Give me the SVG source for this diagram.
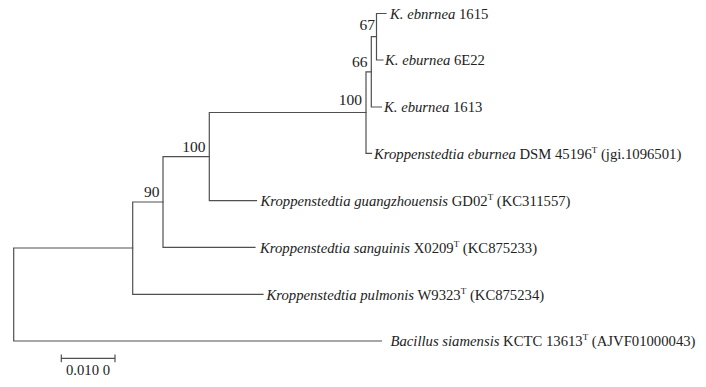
<svg xmlns="http://www.w3.org/2000/svg" width="706" height="387" viewBox="0 0 706 387">
<style>
.br{stroke:#505050;stroke-width:1.2;fill:none;stroke-linecap:square}
text{font-family:"Liberation Serif","Times New Roman",serif;font-size:14.7px;fill:#222}
.bs{text-anchor:end;font-size:15.5px}
.i{font-style:italic}
.sup{font-size:9px}
</style>
<rect width="706" height="387" fill="#fff"/>
<g id="connectors">
<path class="br" d="M376.5,13.5 V60 M376.5,13.5 H386 M376.5,60 H383"/>
<path class="br" d="M371.3,36.7 V107 M371.3,36.7 H376.5 M371.3,107 H381.5"/>
<path class="br" d="M366,71.8 V153.3 M366,71.8 H371.3 M366,153.3 H371.5"/>
<path class="br" d="M209.3,112.5 V200.7 M209.3,112.5 H366 M209.3,200.7 H256.5"/>
<path class="br" d="M163,156.6 V247.3 M163,156.6 H209.3 M163,247.3 H255"/>
<path class="br" d="M132.7,202 V294.3 M132.7,202 H163 M132.7,294.3 H263"/>
<path class="br" d="M13.7,248 V341 M13.7,248 H132.7 M13.7,341 H381.5"/>
</g>
<g id="leaf-1615"><text x="390" y="19"><tspan class="i">K. ebnrnea</tspan> 1615</text></g>
<g id="leaf-6E22"><text x="385" y="65"><tspan class="i">K. eburnea</tspan> 6E22</text></g>
<g id="leaf-1613"><text x="384" y="112"><tspan class="i">K. eburnea</tspan> 1613</text></g>
<g id="leaf-dsm"><text x="374" y="158.5"><tspan class="i">Kroppenstedtia eburnea</tspan> DSM 45196<tspan class="sup" dy="-6">T</tspan><tspan dy="6"> (jgi.1096501)</tspan></text></g>
<g id="leaf-gd02"><text x="260.5" y="206"><tspan class="i">Kroppenstedtia guangzhouensis</tspan> GD02<tspan class="sup" dy="-6">T</tspan><tspan dy="6"> (KC311557)</tspan></text></g>
<g id="leaf-x0209"><text x="260" y="252.5"><tspan class="i">Kroppenstedtia sanguinis</tspan> X0209<tspan class="sup" dy="-6">T</tspan><tspan dy="6"> (KC875233)</tspan></text></g>
<g id="leaf-w9323"><text x="266.5" y="299.5"><tspan class="i">Kroppenstedtia pulmonis</tspan> W9323<tspan class="sup" dy="-6">T</tspan><tspan dy="6"> (KC875234)</tspan></text></g>
<g id="leaf-bacillus"><text x="390.5" y="346"><tspan class="i">Bacillus siamensis</tspan> KCTC 13613<tspan class="sup" dy="-6">T</tspan><tspan dy="6"> (AJVF01000043)</tspan></text></g>
<g id="node-67"><text class="bs" x="375" y="30">67</text></g>
<g id="node-66"><text class="bs" x="367.5" y="67">66</text></g>
<g id="node-100a"><text class="bs" x="362" y="105">100</text></g>
<g id="node-100b"><text class="bs" x="205.5" y="151.5">100</text></g>
<g id="node-90"><text class="bs" x="159.5" y="196.5">90</text></g>
<g id="scale">
<path class="br" d="M61.3,358.3 H115 M61.3,355 V361.6 M115,355 V361.6"/>
<text x="88" y="375" text-anchor="middle" font-size="15px">0.010 0</text>
</g>
</svg>
